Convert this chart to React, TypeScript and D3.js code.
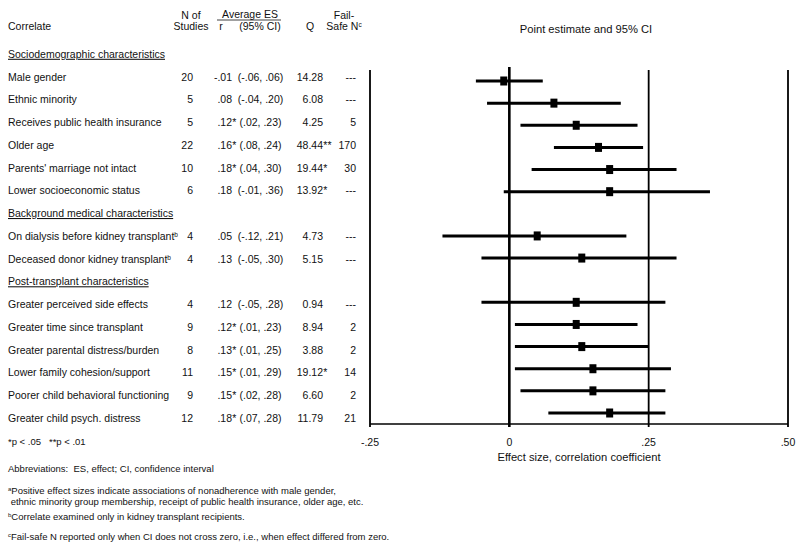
import * as d3 from "d3";

// table data
const sections = ["Sociodemographic characteristics", "Background medical characteristics", "Post-transplant characteristics"];
const correlates = [
  "Male gender", "Ethnic minority", "Receives public health insurance", "Older age",
  "Parents' marriage not intact", "Lower socioeconomic status",
  "On dialysis before kidney transplant", "Deceased donor kidney transplant",
  "Greater perceived side effects", "Greater time since transplant", "Greater parental distress/burden",
  "Lower family cohesion/support", "Poorer child behavioral functioning", "Greater child psych. distress",
];
const sectionOf = [0, 0, 0, 0, 0, 0, 1, 1, 2, 2, 2, 2, 2, 2];
const footMark = ["", "", "", "", "", "", "b", "b", "", "", "", "", "", ""];
const nStudies = [20, 5, 5, 22, 10, 6, 4, 4, 4, 9, 8, 11, 9, 12];
const rVals = [-0.01, 0.08, 0.12, 0.16, 0.18, 0.18, 0.05, 0.13, 0.12, 0.12, 0.13, 0.15, 0.15, 0.18];
const rSig = ["", "", "*", "*", "*", "", "", "", "", "*", "*", "*", "*", "*"];
const ciLo = [-0.06, -0.04, 0.02, 0.08, 0.04, -0.01, -0.12, -0.05, -0.05, 0.01, 0.01, 0.01, 0.02, 0.07];
const ciHi = [0.06, 0.2, 0.23, 0.24, 0.3, 0.36, 0.21, 0.3, 0.28, 0.23, 0.25, 0.29, 0.28, 0.28];
const qVals = ["14.28", "6.08", "4.25", "48.44", "19.44", "13.92", "4.73", "5.15", "0.94", "8.94", "3.88", "19.12", "6.60", "11.79"];
const qSig = ["", "", "", "**", "*", "*", "", "", "", "", "", "*", "", ""];
const failSafe = ["---", "---", "5", "170", "30", "---", "---", "---", "---", "2", "2", "14", "2", "21"];
const ticks = [-0.25, 0, 0.25, 0.5];
const tickLabels = ["-.25", "0", ".25", ".50"];
const footnotes = [
  { mark: "", text: "*p < .05   **p < .01", y: 442 },
  { mark: "", text: "Abbreviations:  ES, effect; CI, confidence interval", y: 469 },
  { mark: "a", text: "Positive effect sizes indicate associations of nonadherence with male gender,", y: 491 },
  { mark: "", text: " ethnic minority group membership, receipt of public health insurance, older age, etc.", y: 502 },
  { mark: "b", text: "Correlate examined only in kidney transplant recipients.", y: 517 },
  { mark: "c", text: "Fail-safe N reported only when CI does not cross zero, i.e., when effect differed from zero.", y: 537 },
];

const fmtR = (v: number) => (v < 0 ? "-" : "") + Math.abs(v).toFixed(2).replace(/^0/, "");

// rows: headers + items in order
type Row = { kind: "h"; label: string } | { kind: "i"; idx: number };
const rows: Row[] = [];
correlates.forEach((_, i) => {
  if (i === 0 || sectionOf[i] !== sectionOf[i - 1]) rows.push({ kind: "h", label: sections[sectionOf[i]] });
  rows.push({ kind: "i", idx: i });
});

const FONT = "'Liberation Sans', Arial, Helvetica, sans-serif";

export default function App() {
  const W = 800, H = 559;
  const x = d3.scaleLinear().domain([-0.25, 0.5]).range([370, 788]);
  const yText = d3.scaleLinear().domain([0, rows.length - 1]).range([54, 418]);
  const yMark = d3.scaleLinear().domain([1, rows.length - 1]).range([81, 413]);
  const axisY = 424;
  const fs = 10.5;
  const small = 9.5;
  const base = (y: number, size: number) => y + size * 0.36; // centre -> baseline

  return (
    <svg width={W} height={H} style={{ position: "absolute", left: 0, top: 0, background: "#fff" }}
      fontFamily={FONT} fill="#111">
      <rect width={W} height={H} fill="#fff" />
      {/* column headers */}
      <g fontSize={fs}>
        <text x={8} y={base(26, fs)}>Correlate</text>
        <text x={191} y={base(15, fs)} textAnchor="middle">N of</text>
        <text x={191} y={base(26, fs)} textAnchor="middle">Studies</text>
        <text x={250} y={base(14.5, fs)} textAnchor="middle">Average ES</text>
        <line x1={217} x2={281} y1={20} y2={20} stroke="#111" strokeWidth={0.8} />
        <text x={221} y={base(26, fs)} textAnchor="middle">r</text>
        <text x={260} y={base(26, fs)} textAnchor="middle">(95% CI)</text>
        <text x={310} y={base(26, fs)} textAnchor="middle">Q</text>
        <text x={344} y={base(15, fs)} textAnchor="middle">Fail-</text>
        <text x={344} y={base(26, fs)} textAnchor="middle">Safe N<tspan fontSize={6.5} dy="-0.45em">c</tspan></text>
        <text x={586} y={base(29, 11.2)} textAnchor="middle" fontSize={11.2}>Point estimate and 95% CI</text>
      </g>

      {/* table rows */}
      <g fontSize={fs}>
        {rows.map((r, k) => {
          const y = base(yText(k), fs);
          if (r.kind === "h") {
            return (
              <text key={k} x={8} y={y} textDecoration="underline">{r.label}</text>
            );
          }
          const i = r.idx;
          return (
            <g key={k}>
              <text x={8} y={y}>
                {correlates[i]}
                {footMark[i] && <tspan fontSize={6.5} dy="-0.45em">{footMark[i]}</tspan>}
              </text>
              <text x={193} y={y} textAnchor="end">{nStudies[i]}</text>
              <text x={232} y={y} textAnchor="end">{fmtR(rVals[i])}</text>
              {rSig[i] && <text x={232.3} y={y}>{rSig[i]}</text>}
              <text x={260.5} y={y} textAnchor="middle">({fmtR(ciLo[i])}, {fmtR(ciHi[i])})</text>
              <text x={323} y={y} textAnchor="end">{qVals[i]}</text>
              {qSig[i] && <text x={323.3} y={y}>{qSig[i]}</text>}
              <text x={356} y={y} textAnchor="end">{failSafe[i]}</text>
            </g>
          );
        })}
      </g>

      {/* forest plot frame */}
      <g stroke="#000">
        {ticks.map((t) => (
          <line key={t} x1={x(t)} x2={x(t)} y1={t === 0 ? 67 : 70} y2={axisY + 3}
            strokeWidth={t === 0 ? 2.6 : 1.8} />
        ))}
        <line x1={x(-0.25)} x2={x(0.5)} y1={axisY} y2={axisY} strokeWidth={1.5} />
      </g>

      {/* CI bars and point estimates */}
      <g>
        {rows.map((r, k) => {
          if (r.kind !== "i") return null;
          const i = r.idx;
          const y = yMark(k);
          return (
            <g key={k}>
              <line x1={x(ciLo[i])} x2={x(ciHi[i])} y1={y} y2={y} stroke="#000" strokeWidth={3} />
              <rect x={x(rVals[i]) - 3.5} y={y - 4.5} width={7} height={9} fill="#000" />
            </g>
          );
        })}
      </g>

      {/* axis labels */}
      <g fontSize={fs}>
        {ticks.map((t, j) => (
          <text key={t} x={x(t)} y={base(442, fs)} textAnchor="middle">{tickLabels[j]}</text>
        ))}
        <text x={x(0.125)} y={base(457, 11.2)} textAnchor="middle" fontSize={11.2}>Effect size, correlation coefficient</text>
      </g>

      {/* footnotes */}
      <g fontSize={small}>
        {footnotes.map((f, j) => {
          const y = base(f.y, small);
          return (
            <text key={j} x={8} y={y} xmlSpace="preserve" style={{ whiteSpace: "pre" }}>
              {f.mark && <tspan fontSize={6} y={y - 3.5}>{f.mark}</tspan>}
              <tspan y={y}>{f.text}</tspan>
            </text>
          );
        })}
      </g>
    </svg>
  );
}
